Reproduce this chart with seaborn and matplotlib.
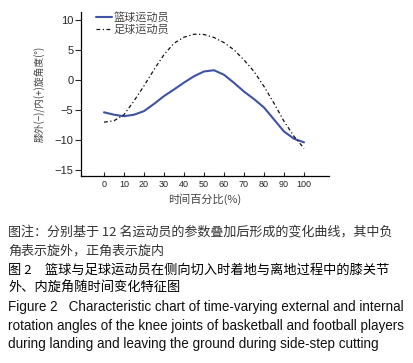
import numpy as np
import pandas as pd
import matplotlib
matplotlib.use("Agg")
import matplotlib.pyplot as plt
import seaborn as sns
from matplotlib.lines import Line2D

# time percentage (%)
pct = [0, 5, 10, 15, 20, 25, 30, 35, 40, 45, 50, 55, 60, 65, 70, 75, 80, 85, 90, 95, 100]
# knee rotation angle (deg)
basketball = [-5.4, -5.8, -6.05, -5.8, -5.2, -4.0, -2.7, -1.6, -0.45, 0.6, 1.4, 1.6, 0.85, -0.5, -1.95, -3.2, -4.6, -6.6, -8.6, -9.8, -10.4]
football = [-7.05, -6.8, -5.8, -3.5, -1.0, 1.7, 4.2, 6.1, 7.1, 7.6, 7.55, 7.05, 6.2, 5.0, 3.3, 1.4, -1.1, -3.9, -6.9, -9.4, -11.4]
series = ["篮球运动员", "足球运动员"]
xticks = [0, 10, 20, 30, 40, 50, 60, 70, 80, 90, 100]
yticks = [10, 5, 0, -5, -10, -15]

df = pd.DataFrame({
    "pct": pct * 2,
    "angle": basketball + football,
    "group": [series[0]] * len(pct) + [series[1]] * len(pct),
})

sns.set_style("ticks")
plt.rcParams["font.family"] = ["Liberation Sans", "Noto Sans CJK SC", "DejaVu Sans"]
plt.rcParams["axes.unicode_minus"] = True

fig = plt.figure(figsize=(4.14, 3.63), dpi=100)
ax = fig.add_axes([0.1957, 0.5152, 0.599, 0.4518])

sns.lineplot(data=df, x="pct", y="angle", hue="group", style="group",
             palette={series[0]: "#3f52a3", series[1]: "#111111"},
             dashes={series[0]: "", series[1]: (3, 2, 1, 2)},
             ax=ax, legend=False)
lines = ax.get_lines()
lines[0].set_linewidth(1.5)
lines[1].set_linewidth(0.9)

ax.set_xlim(-11.5, 112.5)
ax.set_ylim(-16, 11.3)
ax.set_xticks(xticks)
ax.set_yticks(yticks)
ax.tick_params(axis="x", direction="in", length=3, width=0.8, labelsize=6.5, pad=3)
ax.tick_params(axis="y", direction="out", length=4, width=0.8, labelsize=8, pad=1.5)
for s in ["top", "right"]:
    ax.spines[s].set_visible(False)
for s in ["left", "bottom"]:
    ax.spines[s].set_linewidth(0.9)
    ax.spines[s].set_color("black")

cjk = ["Noto Sans CJK SC", "DejaVu Sans"]
ax.set_xlabel("时间百分比(%)", fontsize=8, color="#444444", labelpad=3, family=cjk)
ax.set_ylabel("膝外(−)/内(+)旋角度(°)", fontsize=7, color="#444444", labelpad=6, family=cjk)

handles = [Line2D([], [], color="#3f52a3", lw=1.5),
           Line2D([], [], color="#111111", lw=0.9, dashes=(3, 2, 1, 2))]
leg = ax.legend(handles, series, loc="upper left", bbox_to_anchor=(0.03, 1.05),
                frameon=False, fontsize=8, handlelength=1.4, handletextpad=0.2,
                labelspacing=0.2, borderpad=0.2)
for t in leg.get_texts():
    t.set_color("#444444")
    t.set_family(cjk)

x0 = 8 / 414
def cap(ypix, text, size, **kw):
    fig.text(x0, 1 - ypix / 363, text, va="center", ha="left", fontsize=size, **kw)

cap(232, "图注：分别基于 12 名运动员的参数叠加后形成的变化曲线，其中负", 9.4, color="#333333", family=cjk)
cap(251, "角表示旋外，正角表示旋内", 9.4, color="#333333", family=cjk)
cap(270, "图 2　篮球与足球运动员在侧向切入时着地与离地过程中的膝关节", 9.5, color="black", family=cjk, fontweight="medium")
cap(288, "外、内旋角随时间变化特征图", 9.5, color="black", family=cjk, fontweight="medium")
eng = ["Liberation Sans", "DejaVu Sans"]
cap(307, "Figure 2   Characteristic chart of time-varying external and internal", 9.75, color="#111111", family=eng)
cap(326, "rotation angles of the knee joints of basketball and football players", 9.75, color="#111111", family=eng)
cap(344, "during landing and leaving the ground during side-step cutting", 9.75, color="#111111", family=eng)

fig.savefig("out.png", dpi=100)
